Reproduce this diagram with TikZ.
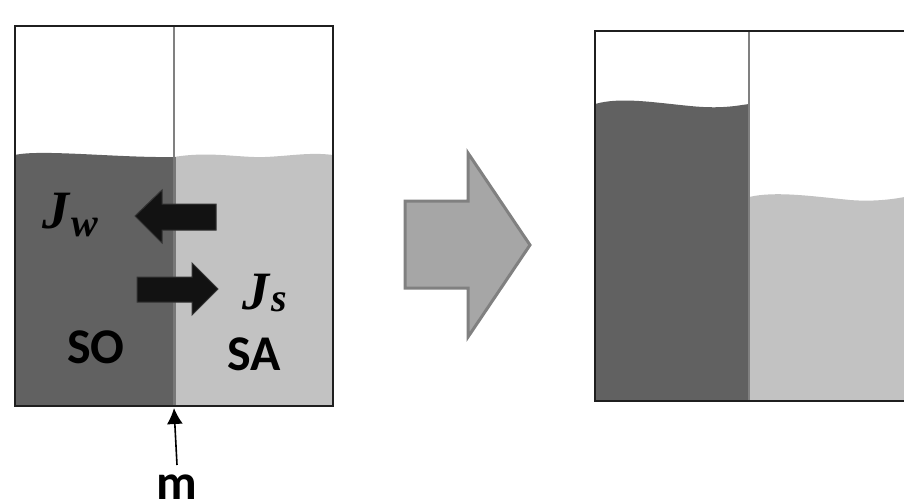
\documentclass[tikz,border=0pt]{standalone}
\usetikzlibrary{arrows.meta}
\usepackage{fontspec}
\setmainfont{Carlito}
\newfontfamily\jfont{Liberation Serif}
\begin{document}
\begin{tikzpicture}[x=1pt,y=-1pt,
  boxline/.style={draw=black!88,line width=2pt},
  memline/.style={draw=black!50,line width=1.6pt},
  darkwater/.style={fill=black!62},
  lightwater/.style={fill=black!24},
  fluxarrow/.style={fill=black!93,draw=black!80,line width=1pt,line join=miter},
  bigarrow/.style={fill=black!35,draw=black!50,line width=3pt,line join=miter},
  lbl/.style={inner sep=0pt,anchor=base,font=\fontsize{50}{50}\selectfont\bfseries},
  jlbl/.style={inner sep=0pt,anchor=base west,font=\jfont\fontsize{54}{54}\selectfont\bfseries\itshape},
  jsub/.style={inner sep=0pt,anchor=base west,font=\jfont\fontsize{40}{40}\selectfont\bfseries\itshape}]
\useasboundingbox (0,0) rectangle (904,503);
\clip (0,0) rectangle (904,503);
% ---------- left vessel ----------
\fill[darkwater] (15,155) .. controls (40,149) and (120,158) .. (174,157) -- (174,406) -- (15,406) -- cycle;
\fill[lightwater] (174,157) .. controls (210,151) and (240,158) .. (265,157) .. controls (290,156) and (310,152) .. (333,155) -- (333,406) -- (174,406) -- cycle;
\draw[memline] (174,26) -- (174,157);
\fill[black!53] (172.5,157) rectangle (175.5,406);
\draw[boxline] (15,26) rectangle (333,406);
\coordinate (mtip) at (174,408);
\coordinate (mtail) at (177,465);
% flux arrows
\draw[fluxarrow] (135,216) -- (162,190) -- (162,204) -- (216,204) -- (216,230) -- (162,230) -- (162,243) -- cycle;
\draw[fluxarrow] (137,277) -- (192,277) -- (192,263) -- (218,289) -- (192,315) -- (192,302) -- (137,302) -- cycle;
\node[jlbl] (jw) at (42,228) {J};
\node[jsub] (jwsub) at (71,236) {w};
\node[jlbl] (js) at (242,309) {J};
\node[jsub] (jssub) at (271,311) {s};
\node[lbl] (so) at (96,363) {SO};
\node[lbl] (sa) at (254,370) {SA};
\node[lbl] (m) at (177,499) {m};
\draw[line width=1.6pt,-{Latex[length=16pt,width=16pt]}] (mtail) -- (mtip);
% ---------- big arrow ----------
\draw[bigarrow] (405,201) -- (468,201) -- (468,153) -- (530,245) -- (468,337) -- (468,288) -- (405,288) -- cycle;
% ---------- right vessel ----------
\fill[darkwater] (595,104) .. controls (620,97) and (650,102) .. (690,106) .. controls (720,109) and (735,106) .. (749,104) -- (749,401) -- (595,401) -- cycle;
\fill[lightwater] (749,197) .. controls (775,191) and (810,196) .. (850,200) .. controls (875,202) and (895,199) .. (910,196) -- (910,401) -- (749,401) -- cycle;
\draw[memline] (749,31) -- (749,401);
\draw[boxline] (595,31) rectangle (915,401);
\end{tikzpicture}
\end{document}
